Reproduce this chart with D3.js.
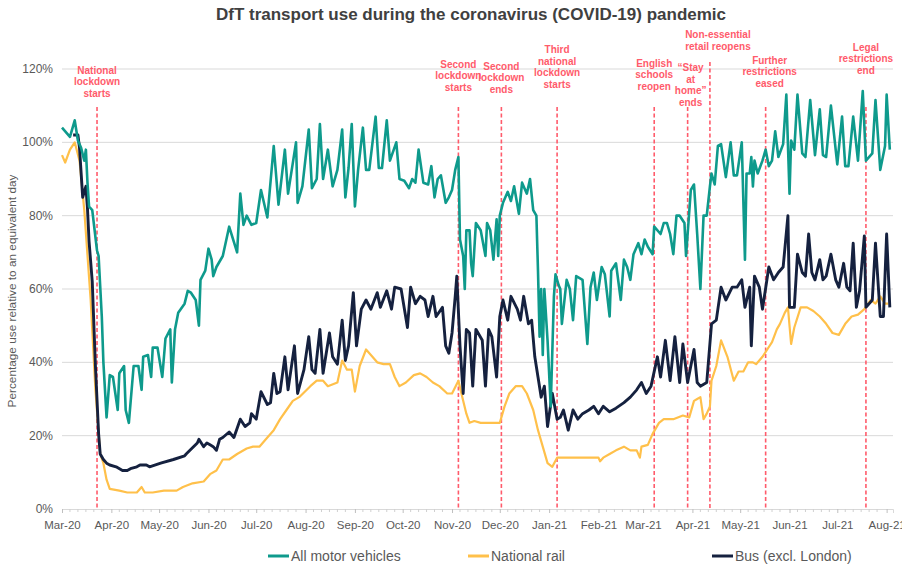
<!DOCTYPE html>
<html>
<head>
<meta charset="utf-8">
<script src="https://cdn.jsdelivr.net/npm/d3@7"></script>
<style>
  body { margin: 0; background: #fff; }
  svg { display: block; font-family: "Liberation Sans", Arial, sans-serif; }
</style>
</head>
<body>
<svg id="chart" width="902" height="564"></svg>
<script>
// all series: [days since 1 Mar 2020, % of an equivalent day]
const startDate = new Date(2020, 2, 1);

const motorVehicles = [
  [0,104],[5,101.5],[8,106],[10,100.5],[12,98.5],[14,95],[15,98],[16,89],[17,82.5],[19,81.5],[22,70.5],[23,69],
  [25,52.5],[26,40],[28,25],[30,36.5],[32,36],[35,27],[36,37],[39,39],[40,27],[42,23.5],[45,39],[48,39],[50,32.5],
  [51,41.5],[54,42],[56,36],[57,44],[60,44],[63,36],[65,46.5],[68,49],[69,34.5],[71,49],[73,53.5],[77,56],[79,59.5],
  [81,59],[84,57],[86,50],[87,62.5],[90,65],[92,71],[94,68],[95,63.5],[97,66],[101,69],[105,77],[110,70],[112,86],
  [114,77.5],[116,80],[119,77.5],[122,78],[125,87],[129,79.5],[133,99],[136,83],[140,98],[142,86],[147,100],[148,83.5],
  [151,88],[155,103.5],[157,87.5],[160,90],[162,105],[164,90],[167,98],[170,88],[173,92.5],[176,103.5],[178,85],[180,93],
  [182,105],[184,82.5],[186,92.5],[189,104],[191,92.5],[193,92.5],[197,107],[199,93],[201,93],[204,106],[206,95],[210,100],
  [212,90],[215,89.5],[218,87.5],[220,90],[222,89],[224,98],[227,89],[230,88.5],[232,93.5],[234,85],[236,90],[238,91],
  [241,83.5],[243,85],[245,87],[247,92.5],[249,96],[250,73.5],[252,69],[253,60],[254,76],[256,76],[257,67],[258,63.5],
  [260,78],[263,76],[266,69],[267,78],[269,76],[271,68],[273,79],[274,69],[275,80],[277,83.5],[280,86.5],[282,84],
  [284,88],[287,80.5],[289,89],[292,86],[294,90],[296,81.5],[298,80],[299,65],[300,47],[301,60],[302,42],[303,60],
  [305,46],[307,28],[309,58],[310,64],[312,61],[313,60],[314,50.5],[317,62.5],[319,60],[321,51.5],[323,63.5],[327,62.5],
  [330,45],[332,60.5],[334,64.5],[336,57],[339,66],[341,64],[344,52.5],[345,65],[348,67],[351,57],[353,68],[355,66],
  [357,62.5],[359,69.5],[362,72.5],[364,69.5],[366,73.5],[368,71.5],[371,69.5],[372,77],[376,75],[378,78],[380,78],
  [382,75],[384,69.5],[386,80],[388,80],[391,78],[392,69],[395,87],[397,88.5],[399,75],[401,60],[403,80],[405,80],
  [407,88],[408,91.5],[410,88.5],[412,99],[414,99.5],[417,90.5],[420,100],[422,91],[424,91],[427,100],[429,68],
  [430,91.5],[432,91.5],[433,96],[434,88],[435,95],[437,91.5],[440,95],[442,98],[444,93.5],[446,95],[448,103],[450,96],
  [453,99.5],[455,113],[457,86],[458,100.5],[460,98],[462,113],[465,97],[467,96],[470,111.5],[473,96.5],[476,109],
  [478,96.5],[480,96],[483,110],[487,94],[490,107],[492,93.5],[494,93.5],[497,107],[500,95],[503,114],[505,95],
  [509,97],[511,111.5],[514,92.5],[517,99],[518,113],[520,98]
];

const nationalRail = [
  [0,96.5],[2,94.5],[5,98],[8,100],[11,95],[14,81.5],[18,57],[21,32.5],[24,15],[26,12.5],[28,8],[30,5.5],[36,5],
  [41,4.5],[47,4.5],[50,6],[52,4.5],[57,4.5],[64,5],[72,5],[76,6],[82,7],[89,7.5],[93,9.5],[97,10.5],[101,13.5],
  [105,13.5],[110,15],[116,16.5],[120,17],[124,17],[129,19.5],[133,21.5],[137,24.5],[141,27],[145,29.5],[149,30.5],
  [156,33.5],[160,35],[164,35],[167,33.5],[173,34.5],[176,40.5],[179,38],[182,38],[184,32],[187,39],[191,43.5],
  [198,40],[202,39.5],[206,39.5],[209,36],[212,33.5],[216,34.5],[221,36.5],[225,37],[229,36],[233,34.5],[237,33.5],
  [242,31.5],[245,31.5],[249,35],[252,29.5],[254,26],[256,23.5],[259,24],[263,23.5],[275,23.5],[278,28],[281,31.5],
  [285,33.5],[289,33.5],[292,31.5],[296,27],[299,21.5],[302,17],[305,12.5],[308,11.5],[311,14],[337,14],[338,13],
  [340,14],[344,15],[348,16],[353,17],[357,16],[361,16],[363,14],[364,17],[368,17.5],[371,20.5],[375,23.5],[378,24.5],
  [384,24.5],[390,25.5],[394,25],[397,29.5],[399,30],[401,30.5],[403,24.5],[405,26],[407,28],[408,35],[411,39],
  [414,46],[418,41.5],[422,35],[425,37.5],[428,37.5],[431,40],[434,40],[436,39.5],[440,41.5],[443,43.5],[446,45.5],
  [449,49],[451,50.5],[454,53.5],[456,55],[458,45],[460,49.5],[464,55],[468,55],[472,54],[476,52.5],[480,50.5],
  [484,48],[488,47.5],[492,50.5],[496,52.5],[500,53],[504,54.5],[508,57],[511,56],[514,58],[517,56],[519,56]
];

const busExclLondon = [
  [7,102],[10,102],[11,98.5],[13,85],[15,88],[16,82],[17,73],[19,62],[21,39],[23,20.5],[24,15],[26,13.5],[28,12.5],
  [30,12],[34,11.5],[38,10.5],[41,10.5],[43,11],[47,11.5],[49,12],[53,12],[55,11.5],[62,12.5],[70,13.5],[77,14.5],
  [78,15],[85,18],[86,19],[89,17],[91,18],[93,17.5],[95,17],[97,16],[99,19],[101,19.5],[105,21],[108,19.5],[112,24.5],
  [115,22.5],[118,23.5],[119,26],[122,24.5],[125,32],[129,28.5],[131,29],[133,37],[135,31.5],[137,32],[140,41.5],
  [142,32.5],[146,44.5],[148,31.5],[152,38],[155,47],[157,38],[159,37],[162,49],[164,37],[168,48],[170,41.5],[173,39.5],
  [176,51.5],[178,40.5],[180,44.5],[183,59],[185,44.5],[188,54.5],[191,57],[194,54.5],[198,59],[200,55],[204,59.5],
  [207,54.5],[209,60.5],[213,60],[217,49.5],[219,60.5],[222,56],[225,58],[228,57],[230,52.5],[233,58],[235,52.5],
  [239,55],[241,44.5],[243,42.5],[245,48],[247,58],[248,63.5],[250,44.5],[252,31.5],[254,49],[256,48],[258,33.5],
  [260,49],[264,46],[266,33.5],[268,49],[270,47],[273,36],[275,52.5],[277,57],[280,51.5],[282,58],[286,54.5],[288,51.5],
  [290,58],[293,50.5],[295,51.5],[297,41.5],[299,36],[301,30.5],[303,33.5],[305,22.5],[308,31.5],[311,24.5],[313,25],
  [315,27],[318,21.5],[321,27],[324,24.5],[327,26],[331,27],[334,28],[337,26],[340,28],[344,26.5],[348,27.5],[353,29],
  [357,30.5],[361,32.5],[364,34.5],[367,31.5],[370,33.5],[374,41.5],[376,36],[379,46],[382,35],[385,47],[388,34.5],
  [390,45],[393,34.5],[397,43.5],[399,34.5],[401,33.5],[405,34.5],[408,50.5],[411,51.5],[414,60.5],[417,57],[421,60.5],
  [424,60.5],[427,62.5],[429,55],[432,60.5],[433,44.5],[435,63.5],[438,60.5],[440,54.5],[444,66],[447,62.5],[450,64.5],
  [453,66],[456,80],[457,55],[460,55],[462,69.5],[465,64.5],[467,63.5],[469,75],[471,64.5],[473,62.5],[476,68],
  [478,62.5],[480,63.5],[483,69.5],[486,62.5],[488,60.5],[491,67],[493,60.5],[495,59.5],[497,72.5],[499,55],[501,59.5],
  [504,74.5],[505,55],[509,57],[511,72.5],[514,52.5],[516,52.5],[518,75],[520,55]
];

const seriesNames = ["All motor vehicles", "National rail", "Bus (excl. London)"];
const yTicks = [0, 20, 40, 60, 80, 100, 120];

const events = [
  { date: "2020-03-23", label: ["National", "lockdown", "starts"] },
  { date: "2020-11-05", label: ["Second", "lockdown", "starts"] },
  { date: "2020-12-02", label: ["Second", "lockdown", "ends"] },
  { date: "2021-01-06", label: ["Third", "national", "lockdown", "starts"] },
  { date: "2021-03-08", label: ["English", "schools", "reopen"] },
  { date: "2021-03-29", label: ["\u201cStay", "at", "home\u201d", "ends"] },
  { date: "2021-04-12", label: ["Non-essential", "retail reopens"] },
  { date: "2021-05-17", label: ["Further", "restrictions", "eased"] },
  { date: "2021-07-19", label: ["Legal", "restrictions", "end"] }
];

// layout of the annotation boxes: top of the dashed line and baseline of last text line
const eventLayout = [
  { lineTop: 107, lastLine: 97, dx: 0 },
  { lineTop: 107, lastLine: 91, dx: 0 },
  { lineTop: 107, lastLine: 93, dx: 0 },
  { lineTop: 107, lastLine: 88, dx: 0 },
  { lineTop: 107, lastLine: 90, dx: 0 },
  { lineTop: 107, lastLine: 106, dx: 3 },
  { lineTop: 62, lastLine: 50, dx: 8 },
  { lineTop: 107, lastLine: 87, dx: 4 },
  { lineTop: 107, lastLine: 74, dx: 0 }
];

const colors = ["#0e9a8c", "#ffc04a", "#15213f"];

const svg = d3.select("#chart");
const width = 902, height = 564;
const margin = { left: 62, right: 9, top: 69, bottom: 55 };

const dayToDate = d => d3.timeDay.offset(startDate, d);

const x = d3.scaleTime()
  .domain([startDate, new Date(2021, 7, 5)])
  .range([margin.left, width - margin.right]);

const y = d3.scaleLinear()
  .domain([0, 120])
  .range([height - margin.bottom, margin.top]);

// title
svg.append("text")
  .attr("x", 471).attr("y", 20)
  .attr("text-anchor", "middle")
  .attr("font-size", "17px").attr("font-weight", "bold")
  .attr("fill", "#404040")
  .text("DfT transport use during the coronavirus (COVID-19) pandemic");

// gridlines
svg.append("g")
  .selectAll("line")
  .data(yTicks.filter(t => t > 0))
  .join("line")
  .attr("x1", margin.left).attr("x2", width - margin.right)
  .attr("y1", d => y(d)).attr("y2", d => y(d))
  .attr("stroke", "#d9d9d9").attr("stroke-width", 1);

// y axis labels
svg.append("g")
  .selectAll("text")
  .data(yTicks)
  .join("text")
  .attr("x", 53).attr("y", d => y(d) + 4)
  .attr("text-anchor", "end")
  .attr("font-size", "12px").attr("fill", "#595959")
  .text(d => d + "%");

svg.append("text")
  .attr("transform", `translate(16,${(y(0) + y(120)) / 2 + 2}) rotate(-90)`)
  .attr("text-anchor", "middle")
  .attr("font-size", "11.8px").attr("fill", "#595959")
  .text("Percentage use relative to an equivalent day");

// x axis
const xAxis = svg.append("g")
  .attr("transform", `translate(0,${y(0)})`)
  .call(d3.axisBottom(x)
    .ticks(d3.timeMonth.every(1))
    .tickFormat(d3.timeFormat("%b-%y"))
    .tickSize(4)
    .tickPadding(8));
xAxis.select(".domain").attr("stroke", "#d9d9d9");
xAxis.selectAll(".tick line").attr("stroke", "#bfbfbf");
xAxis.selectAll(".tick text")
  .attr("font-size", "11.5px").attr("fill", "#595959")
  .attr("font-family", "Liberation Sans, Arial, sans-serif");

// minor ticks every 5 days
const minor = x.ticks(d3.timeDay.filter(d => d.getDate() > 1 && (d.getDate() - 1) % 5 === 0 && d.getDate() < 30));
svg.append("g")
  .selectAll("line")
  .data(minor)
  .join("line")
  .attr("x1", d => x(d)).attr("x2", d => x(d))
  .attr("y1", y(0)).attr("y2", y(0) + 3)
  .attr("stroke", "#d0d0d0");

// event lines
const parse = d3.timeParse("%Y-%m-%d");
const ev = svg.append("g");
events.forEach((e, i) => {
  const lx = x(parse(e.date));
  const lay = eventLayout[i];
  ev.append("line")
    .attr("x1", lx).attr("x2", lx)
    .attr("y1", lay.lineTop).attr("y2", y(0))
    .attr("stroke", "#ff5b6b").attr("stroke-width", 1.6)
    .attr("stroke-dasharray", "4,2.5");
  const n = e.label.length;
  ev.append("text")
    .attr("text-anchor", "middle")
    .attr("font-size", "10px").attr("font-weight", "bold")
    .attr("fill", "#ff5b6b")
    .selectAll("tspan")
    .data(e.label)
    .join("tspan")
    .attr("x", lx + lay.dx)
    .attr("y", (d, j) => lay.lastLine - (n - 1 - j) * 11.7)
    .text(d => d);
});

// series
const line = d3.line()
  .x(d => x(dayToDate(d[0])))
  .y(d => y(d[1]));

const seriesData = [motorVehicles, nationalRail, busExclLondon];
const widths = [2.6, 2.2, 2.9];
[1, 2, 0].forEach(k => {
  svg.append("path")
    .datum(seriesData[k])
    .attr("fill", "none")
    .attr("stroke", colors[k])
    .attr("stroke-width", widths[k])
    .attr("stroke-linejoin", "round")
    .attr("d", line);
});

// legend
const legendX = [268, 468, 712];
const legend = svg.append("g");
seriesNames.forEach((name, k) => {
  legend.append("line")
    .attr("x1", legendX[k]).attr("x2", legendX[k] + 21)
    .attr("y1", 556).attr("y2", 556)
    .attr("stroke", colors[k]).attr("stroke-width", 3);
  legend.append("text")
    .attr("x", legendX[k] + 23).attr("y", 561)
    .attr("font-size", "14px").attr("fill", "#595959")
    .text(name);
});
</script>
</body>
</html>
